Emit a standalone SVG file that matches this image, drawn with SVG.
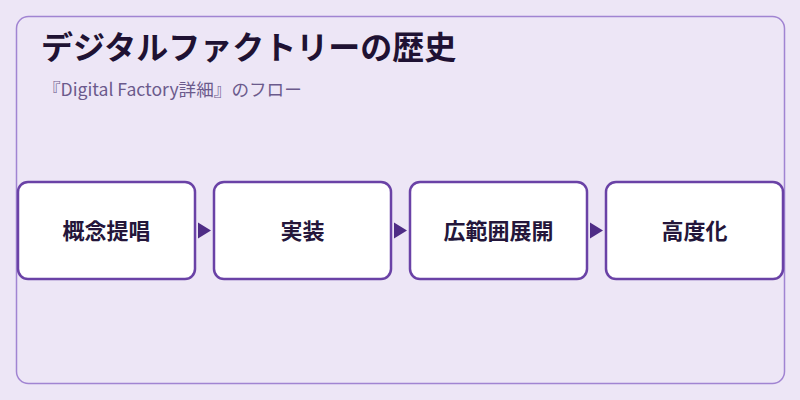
<svg xmlns="http://www.w3.org/2000/svg" width="800" height="400" viewBox="0 0 800 400">
<style>
.title{font-family:"Noto Sans CJK JP","Noto Sans",sans-serif;font-weight:700;font-size:32px;fill:#1f1233}
.sub{font-family:"Noto Sans CJK JP","Noto Sans",sans-serif;font-size:17.6px;fill:#6b5a8c}
.node rect{fill:#ffffff;stroke:#6a42a6;stroke-width:2.5}
.node text{font-family:"Noto Sans CJK JP","Noto Sans",sans-serif;font-weight:700;font-size:22px;fill:#24163a;text-anchor:middle}
.conn path{fill:#4f2d86}
</style>
<rect x="0" y="0" width="800" height="400" fill="#ede6f6"/>
<rect x="16.5" y="16.5" width="768" height="367" rx="12" fill="#ede6f6" stroke="#a184d2" stroke-width="1.5"/>
<text class="title" x="41" y="59">デジタルファクトリーの歴史</text>
<text class="sub" x="43" y="96">『Digital Factory詳細』のフロー</text>
<g id="n1" class="node"><rect x="18" y="182" width="177" height="97" rx="10"/><text x="106.5" y="239">概念提唱</text></g>
<g id="n2" class="node"><rect x="214" y="182" width="177" height="97" rx="10"/><text x="302.5" y="239">実装</text></g>
<g id="n3" class="node"><rect x="410" y="182" width="177" height="97" rx="10"/><text x="498.5" y="239">広範囲展開</text></g>
<g id="n4" class="node"><rect x="606" y="182" width="177" height="97" rx="10"/><text x="694.5" y="239">高度化</text></g>
<g id="connectors" class="conn">
<path d="M198 222.5 L211 230.5 L198 238.5 Z"/>
<path d="M394 222.5 L407 230.5 L394 238.5 Z"/>
<path d="M590 222.5 L603 230.5 L590 238.5 Z"/>
</g>
</svg>
